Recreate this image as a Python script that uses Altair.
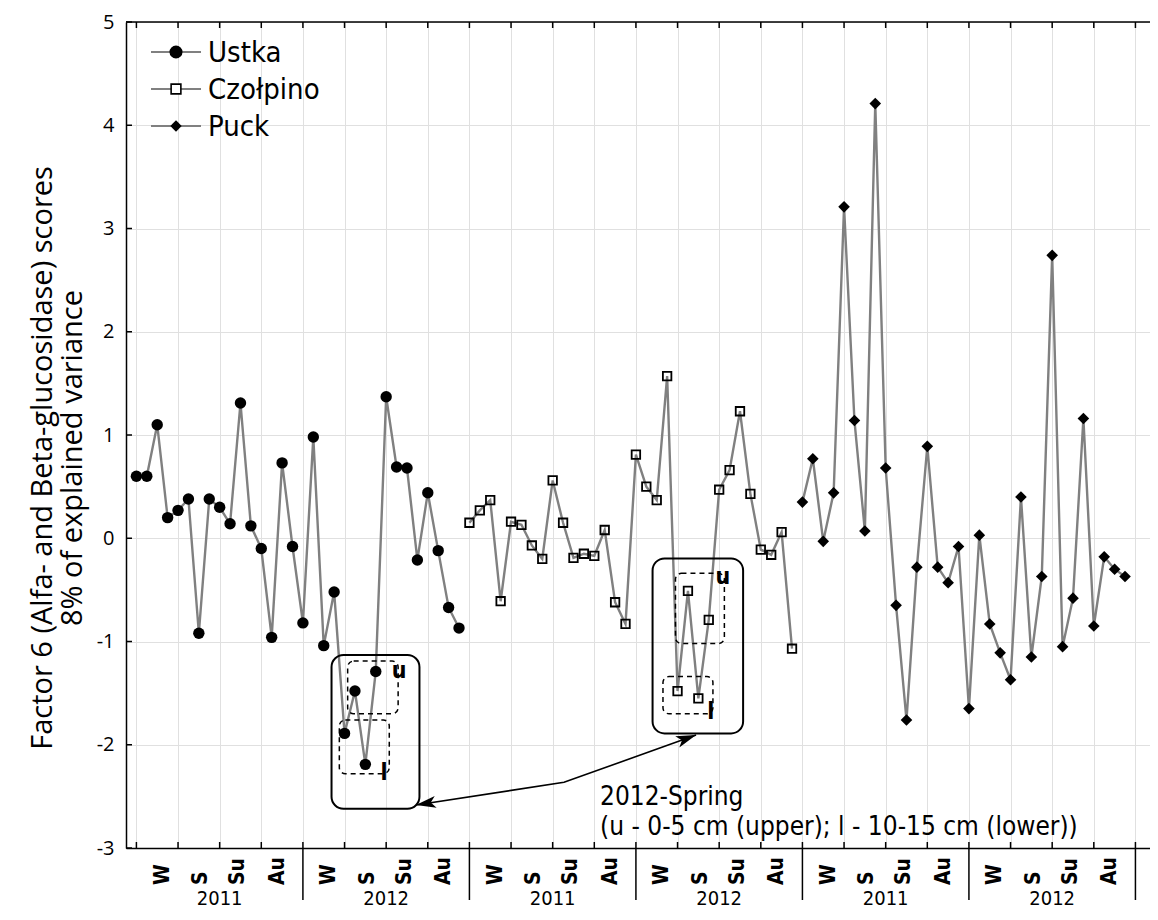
import altair as alt
import pandas as pd

# ---------------- data ----------------
ustka = [0.60, 0.60, 1.10, 0.20, 0.27, 0.38, -0.92, 0.38, 0.30, 0.14, 1.31, 0.12, -0.10, -0.96, 0.73, -0.08,
         -0.82, 0.98, -1.04, -0.52, -1.89, -1.48, -2.19, -1.29, 1.37, 0.69, 0.68, -0.21, 0.44, -0.12, -0.67, -0.87]
czolpino = [0.15, 0.27, 0.37, -0.61, 0.16, 0.13, -0.07, -0.20, 0.56, 0.15, -0.19, -0.15, -0.17, 0.08, -0.62, -0.83,
            0.81, 0.50, 0.37, 1.57, -1.48, -0.51, -1.55, -0.79, 0.47, 0.66, 1.23, 0.43, -0.11, -0.16, 0.06, -1.07]
puck = [0.35, 0.77, -0.03, 0.44, 3.21, 1.14, 0.07, 4.21, 0.68, -0.65, -1.76, -0.28, 0.89, -0.28, -0.43, -0.08,
        -1.65, 0.03, -0.83, -1.11, -1.37, 0.40, -1.15, -0.37, 2.74, -1.05, -0.58, 1.16, -0.85, -0.18, -0.30, -0.37]
site_names = ["Ustka", "Czołpino", "Puck"]
site_starts = [0, 32, 64]

seasons = ["W", "S", "Su", "Au"]
season_offsets = [2.55, 6.25, 9.8, 13.6]
years = ["2011", "2012", "2011", "2012", "2011", "2012"]
section_len = 16
grid_positions = list(range(0, 97, 4))
divider_positions = [16, 32, 48, 64, 80, 96]
y_ticks = list(range(-3, 6))

# annotation boxes (data units): x1, x2, y1, y2, dashed
box_x1 = [18.75, 20.3, 19.5, 49.6, 51.8, 50.6]
box_x2 = [27.2, 25.15, 24.3, 58.3, 56.5, 55.4]
box_y1 = [-1.13, -1.19, -1.76, -0.195, -0.34, -1.34]
box_y2 = [-2.62, -1.70, -2.28, -1.89, -1.02, -1.70]
box_dashed = [False, True, True, False, True, True]

lab_text = ["u", "l", "u", "l"]
lab_x = [25.25, 23.8, 56.35, 55.2]
lab_y = [-1.29, -2.27, -0.38, -1.68]

arrow_x = [26.86, 41.09, 53.78]
arrow_y = [-2.583, -2.364, -1.906]
arrow_head_angle = [171, 340]

note_lines = ["2012-Spring", "(u - 0-5 cm (upper); l - 10-15 cm (lower))"]
note_x = [44.55, 44.55]
note_y = [-2.583, -2.874]

y_title = ["Factor 6 (Alfa- and Beta-glucosidase) scores", "8% of explained variance"]

# ---------------- tables ----------------
rows = []
for name, vals, start in zip(site_names, [ustka, czolpino, puck], site_starts):
    for k, v in enumerate(vals):
        rows.append({"site": name, "sample": start + k, "score": v})
df = pd.DataFrame(rows)

boxes = pd.DataFrame({"x1": box_x1, "x2": box_x2, "y1": box_y1, "y2": box_y2, "dashed": box_dashed})
labs = pd.DataFrame({"t": lab_text, "x": lab_x, "y": lab_y})
arrow = pd.DataFrame({"x": arrow_x, "y": arrow_y, "o": [0, 1, 2]})
heads = pd.DataFrame({"x": [arrow_x[0], arrow_x[-1]], "y": [arrow_y[0], arrow_y[-1]], "ang": arrow_head_angle})
notes = pd.DataFrame({"t": note_lines, "x": note_x, "y": note_y})
grid_df = pd.DataFrame({"g": grid_positions})
div_df = pd.DataFrame({"d": divider_positions})
ytick_df = pd.DataFrame({"v": y_ticks})
season_df = pd.DataFrame([{"t": s, "p": sec * section_len + off}
                          for sec in range(len(years)) for s, off in zip(seasons, season_offsets)])
year_df = pd.DataFrame({"t": years, "p": [sec * section_len + 8 for sec in range(len(years))]})

# ---------------- styling ----------------
W, H = 1024, 826
FONT = "DejaVu Sans Condensed, DejaVu Sans, sans-serif"
TFONT = "Open Sans, DejaVu Sans, sans-serif"
GRID = "#e0e0e0"

XS = alt.Scale(domain=[-1.0, 97.4], nice=False, zero=False)
YS = alt.Scale(domain=[-3, 5], nice=False, zero=False)
XAX = alt.Axis(values=grid_positions, grid=True, gridColor=GRID, gridWidth=1, ticks=False, labels=False,
               domainColor="black", domainWidth=1.5, title=None)
YAX = alt.Axis(values=y_ticks, grid=True, gridColor=GRID, gridWidth=1, ticks=False, labelFontSize=20,
               labelFont=TFONT, labelColor="black", labelPadding=12, domainColor="black", domainWidth=1.5,
               title=None, labelOverlap=False, labelExpr="'' + datum.value")


def X(f):
    return alt.X(f, type="quantitative", scale=XS, axis=XAX, title=None)


def Y(f):
    return alt.Y(f, type="quantitative", scale=YS, axis=YAX, title=None)


layers = []

# base layer carrying axes
layers.append(alt.Chart(df).mark_line(color="#808080", strokeWidth=2.4).encode(
    x=X("sample"), y=Y("score"), detail="site:N"))

# annotation boxes
layers.append(alt.Chart(boxes).transform_filter("!datum.dashed").mark_rect(
    fillOpacity=0, stroke="black", strokeWidth=2, cornerRadius=12).encode(
    x=X("x1"), x2="x2", y=Y("y1"), y2="y2"))
layers.append(alt.Chart(boxes).transform_filter("datum.dashed").mark_rect(
    fillOpacity=0, stroke="black", strokeWidth=1.5, strokeDash=[5, 4], cornerRadius=6).encode(
    x=X("x1"), x2="x2", y=Y("y1"), y2="y2"))

# arrow
layers.append(alt.Chart(arrow).mark_line(color="black", strokeWidth=1.6).encode(
    x=X("x"), y=Y("y"), order="o:Q"))
layers.append(alt.Chart(heads).mark_point(
    shape="M0,0L-2,-0.6L-1.5,0L-2,0.6Z", filled=True, color="black", size=400, opacity=1).encode(
    x=X("x"), y=Y("y"), angle=alt.Angle("ang:Q", scale=None)))

# markers
layers.append(alt.Chart(df).transform_filter("datum.site == 'Ustka'").mark_point(
    shape="circle", filled=True, color="black", size=130, opacity=1).encode(x=X("sample"), y=Y("score")))
layers.append(alt.Chart(df).transform_filter("datum.site == 'Czołpino'").mark_point(
    shape="square", filled=False, color="black", size=72, strokeWidth=1.8, opacity=1).encode(
    x=X("sample"), y=Y("score")))
layers.append(alt.Chart(df).transform_filter("datum.site == 'Puck'").mark_point(
    shape="diamond", filled=True, color="black", size=135, opacity=1).encode(x=X("sample"), y=Y("score")))

# u / l labels
layers.append(alt.Chart(labs).mark_text(font=FONT, fontSize=23, fontWeight="bold", color="black",
                                        align="center", baseline="middle").encode(
    x=X("x"), y=Y("y"), text="t:N"))

# notes
layers.append(alt.Chart(notes).mark_text(font=FONT, fontSize=26, color="black", align="left",
                                         baseline="alphabetic").encode(x=X("x"), y=Y("y"), text="t:N"))

# frame: top line and inward ticks
layers.append(alt.Chart(grid_df.head(1)).mark_rule(color="black", strokeWidth=1.5).encode(
    x=alt.value(0), x2=alt.value(W), y=alt.value(0)))
layers.append(alt.Chart(grid_df).mark_rule(color="black", strokeWidth=1.5).encode(
    x=X("g"), y=alt.value(0), y2=alt.value(6)))
layers.append(alt.Chart(grid_df).mark_rule(color="black", strokeWidth=1.5).encode(
    x=X("g"), y=alt.value(H - 6), y2=alt.value(H)))
layers.append(alt.Chart(ytick_df).mark_rule(color="black", strokeWidth=1.5).encode(
    y=Y("v"), x=alt.value(0), x2=alt.value(6)))

# section dividers and category labels below the axis
layers.append(alt.Chart(div_df).mark_rule(color="black", strokeWidth=1.5).encode(
    x=X("d"), y=alt.value(H), y2=alt.value(H + 52)))
layers.append(alt.Chart(season_df).mark_text(font=FONT, fontSize=21, fontWeight="bold", color="black",
                                             angle=270, align="left", baseline="middle").encode(
    x=X("p"), y=alt.value(H + 37), text="t:N"))
layers.append(alt.Chart(year_df).mark_text(font=FONT, fontSize=20, color="black", align="center",
                                           baseline="alphabetic").encode(
    x=X("p"), y=alt.value(H + 57), text="t:N"))

# y title (two lines)
for txt, xo in zip(y_title, [-83, -53]):
    layers.append(alt.Chart(pd.DataFrame({"t": [txt]})).mark_text(
        font=TFONT, fontSize=29, color="black", angle=270, align="center", baseline="middle").encode(
        x=alt.value(xo), y=alt.value(436), text="t:N"))

# legend
leg_shapes = [("circle", True, 170), ("square", False, 95), ("diamond", True, 130)]
for k, (name, (shp, filled, sz)) in enumerate(zip(site_names, leg_shapes)):
    ly = 30 + 37 * k
    one = pd.DataFrame({"t": [name]})
    layers.append(alt.Chart(one).mark_rule(color="#808080", strokeWidth=2).encode(
        x=alt.value(25), x2=alt.value(75), y=alt.value(ly)))
    layers.append(alt.Chart(one).mark_point(shape=shp, filled=filled, color="black", size=sz,
                                            strokeWidth=1.6, opacity=1, fill="white" if not filled else "black").encode(
        x=alt.value(50), y=alt.value(ly)))
    layers.append(alt.Chart(one).mark_text(font=FONT, fontSize=29, color="black", align="left",
                                           baseline="middle").encode(
        x=alt.value(82), y=alt.value(ly + 1), text="t:N"))

chart = alt.layer(*layers).properties(
    width=W, height=H,
    autosize=alt.AutoSizeParams(type="none"),
    padding={"left": 118, "top": 14, "right": 0, "bottom": 64},
).configure_view(stroke=None).configure(background="white")

chart.save("out.html", embed_options={"renderer": "svg", "actions": False})
